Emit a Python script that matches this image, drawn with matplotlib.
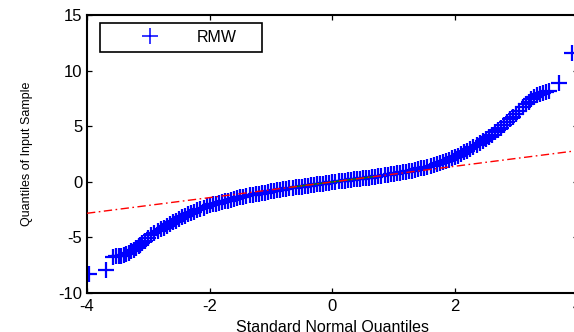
import matplotlib
matplotlib.use("Agg")
import matplotlib.pyplot as plt
import numpy as np

# ---- data (theoretical quantile, sample quantile) ----
left_tail_x = [-3.97, -3.69, -3.58, -3.53, -3.48, -3.44, -3.40, -3.36, -3.32,
               -3.28, -3.24, -3.20, -3.16, -3.13]
left_tail_y = [-8.30, -7.90, -6.75, -6.72, -6.70, -6.66, -6.60, -6.50, -6.38,
               -6.25, -6.10, -5.95, -5.80, -5.68]

body_x = [-3.10, -3.05, -3.00, -2.95, -2.90, -2.85, -2.80, -2.75, -2.70, -2.65,
          -2.60, -2.55, -2.50, -2.45, -2.40, -2.35, -2.30, -2.25, -2.20, -2.15,
          -2.10, -2.05, -2.00, -1.95, -1.90, -1.85, -1.80, -1.75, -1.70, -1.65,
          -1.60, -1.55, -1.50, -1.45, -1.40, -1.35, -1.30, -1.25, -1.20, -1.15,
          -1.10, -1.05, -1.00, -0.95, -0.90, -0.85, -0.80, -0.75, -0.70, -0.65,
          -0.60, -0.55, -0.50, -0.45, -0.40, -0.35, -0.30, -0.25, -0.20, -0.15,
          -0.10, -0.05, 0.00, 0.05, 0.10, 0.15, 0.20, 0.25, 0.30, 0.35,
          0.40, 0.45, 0.50, 0.55, 0.60, 0.65, 0.70, 0.75, 0.80, 0.85,
          0.90, 0.95, 1.00, 1.05, 1.10, 1.15, 1.20, 1.25, 1.30, 1.35,
          1.40, 1.45, 1.50, 1.55, 1.60, 1.65, 1.70, 1.75, 1.80, 1.85,
          1.90, 1.95, 2.00, 2.05, 2.10, 2.15, 2.20, 2.25, 2.30, 2.35,
          2.40, 2.45, 2.50, 2.55, 2.60, 2.65, 2.70, 2.75, 2.80, 2.85,
          2.90, 2.95, 3.00, 3.05, 3.10, 3.15, 3.20]
body_y = [-5.55, -5.30, -5.05, -4.80, -4.60, -4.44, -4.28, -4.12, -3.96, -3.80,
          -3.65, -3.50, -3.35, -3.20, -3.05, -2.93, -2.81, -2.69, -2.57, -2.45,
          -2.34, -2.23, -2.12, -2.05, -1.98, -1.91, -1.84, -1.77, -1.70, -1.63,
          -1.55, -1.48, -1.42, -1.35, -1.28, -1.21, -1.16, -1.12, -1.07, -1.02,
          -0.98, -0.93, -0.88, -0.83, -0.79, -0.74, -0.69, -0.65, -0.60, -0.55,
          -0.51, -0.47, -0.44, -0.40, -0.36, -0.32, -0.28, -0.24, -0.20, -0.17,
          -0.13, -0.09, -0.05, -0.01, 0.02, 0.06, 0.09, 0.13, 0.16, 0.20,
          0.23, 0.27, 0.30, 0.34, 0.37, 0.41, 0.44, 0.49, 0.53, 0.58,
          0.62, 0.67, 0.72, 0.76, 0.81, 0.85, 0.90, 0.95, 1.00, 1.06,
          1.12, 1.19, 1.26, 1.34, 1.42, 1.50, 1.58, 1.67, 1.77, 1.87,
          1.98, 2.09, 2.21, 2.34, 2.48, 2.63, 2.78, 2.94, 3.10, 3.27,
          3.44, 3.62, 3.82, 4.03, 4.24, 4.45, 4.66, 4.87, 5.10, 5.35,
          5.60, 5.86, 6.12, 6.40, 6.68, 6.95, 7.20]

right_tail_x = [3.24, 3.28, 3.33, 3.38, 3.43, 3.48, 3.53, 3.69, 3.90]
right_tail_y = [7.40, 7.60, 7.80, 7.90, 7.98, 8.05, 8.15, 8.85, 11.60]

# reference line (fit through the quartiles)
ref_slope = 0.705
ref_intercept = -0.02
ref_x_range = [-4.0, 4.0]
quartile_x = [-0.674, 0.674]

series_label = "RMW"
x_ticks = [-4, -2, 0, 2, 4]
y_ticks = [-10, -5, 0, 5, 10, 15]

# ---------------------------------------------------------------------------
plt.rcParams['font.family'] = ['Liberation Sans', 'DejaVu Sans']
plt.rcParams['axes.unicode_minus'] = False

fig = plt.figure(figsize=(5.74, 3.32), dpi=100)
ax = fig.add_axes([0.1516, 0.1178, 0.8549, 0.8373])

xs = np.array(left_tail_x + body_x + right_tail_x)
ys = np.array(left_tail_y + body_y + right_tail_y)

ax.plot(xs, ys, linestyle='none', marker='+', markersize=11,
        markeredgewidth=1.6, color=(0, 0, 1), label=series_label, zorder=2)

lx = np.array(ref_x_range)
ax.plot(lx, ref_slope * lx + ref_intercept, color=(1, 0, 0), lw=1.0,
        linestyle=(0, (6, 2.5, 1.2, 2.5)), zorder=4)
qx = np.array(quartile_x)
ax.plot(qx, ref_slope * qx + ref_intercept, color=(0, 0.5, 0), lw=1.0,
        linestyle='-', zorder=3)

ax.set_xlim(-4, 4)
ax.set_ylim(-10, 15)
ax.set_xticks(x_ticks)
ax.set_yticks(y_ticks)
ax.tick_params(direction='in', length=3.5, width=0.9, top=True, right=True,
               labelsize=12, colors='black')
ax.tick_params(axis='x', pad=4.5)
ax.tick_params(axis='y', pad=3.5)
for s in ax.spines.values():
    s.set_linewidth(1.5)
    s.set_color('black')

ax.set_xlabel("Standard Normal Quantiles", fontsize=11.5)
ax.xaxis.set_label_coords(0.5, -0.097)
ax.set_ylabel("Quantiles of Input Sample", fontsize=9)
ax.yaxis.set_label_coords(-0.110, 0.5)

leg = ax.legend(loc='upper left', bbox_to_anchor=(0.0265, 0.972, 0.33, 0.0),
                mode='expand', borderaxespad=0, fancybox=False, framealpha=1,
                edgecolor='black', fontsize=11.5, handlelength=5.3,
                handletextpad=0.3, borderpad=0.45)
for h in leg.legend_handles:
    h.set_markeredgewidth(1.1)
leg.get_frame().set_linewidth(1.2)

fig.savefig("out.png", dpi=100)
